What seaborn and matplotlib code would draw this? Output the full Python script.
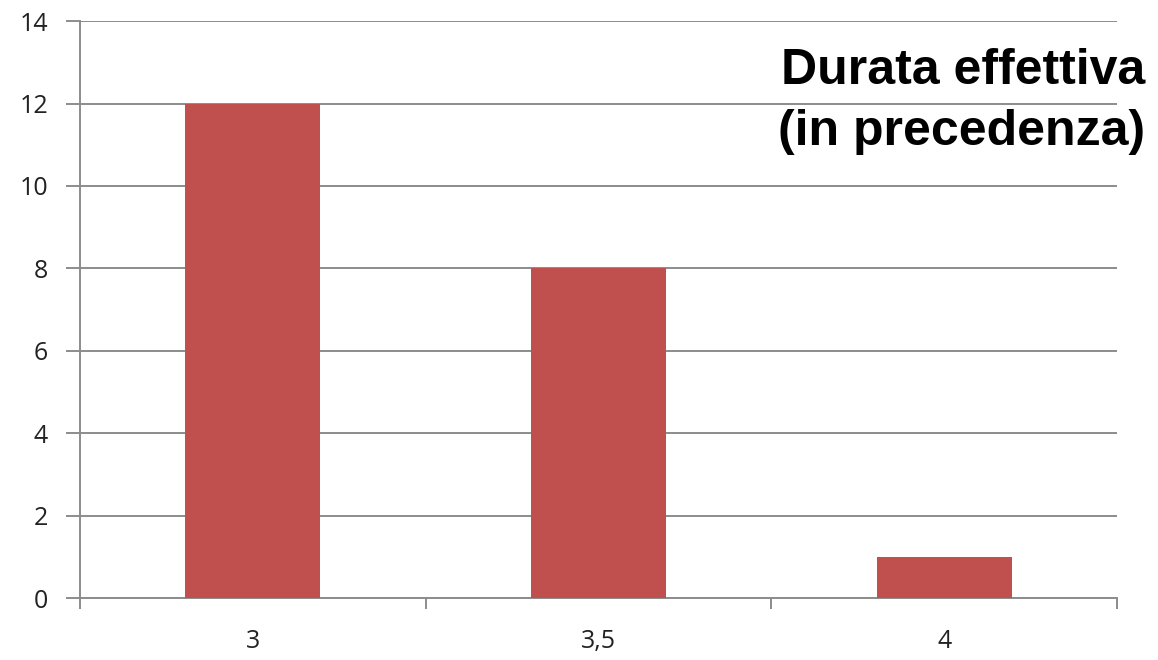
import matplotlib
matplotlib.use("Agg")
import matplotlib.pyplot as plt
from matplotlib.ticker import FixedLocator
import seaborn as sns
import pandas as pd

categories = ["3", "3,5", "4"]
counts = [12, 8, 1]
y_ticks = [0, 2, 4, 6, 8, 10, 12, 14]
title_text = "Durata effettiva\n(in precedenza)"

sns.set_theme(style="white")
plt.rcParams["font.family"] = ["Open Sans", "DejaVu Sans"]

df = pd.DataFrame({"durata": categories, "n": counts})

fig = plt.figure(figsize=(11.58, 6.6), dpi=100)
ax = fig.add_axes([0.0691, 0.0939, 0.8955, 0.8741])

sns.barplot(data=df, x="durata", y="n", color="#C0504D", width=0.39,
            saturation=1, linewidth=0, ax=ax, zorder=3)

ax.set_xlim(-0.5, len(categories) - 0.5)
ax.set_ylim(0, 14)
ax.set_yticks(y_ticks)
ax.yaxis.grid(True, color="#8C8C8C", linewidth=1.4, zorder=0)
ax.set_axisbelow(True)

ax.set_xlabel("")
ax.set_ylabel("")

for side in ["top", "right"]:
    ax.spines[side].set_visible(False)
for side in ["left", "bottom"]:
    ax.spines[side].set_color("#8C8C8C")
    ax.spines[side].set_linewidth(1.4)

ax.tick_params(axis="y", length=10, width=1.4, color="#8C8C8C", pad=13,
               labelsize=18, labelcolor="#222222", left=True)
ax.tick_params(axis="x", which="major", length=0, pad=22,
               labelsize=18, labelcolor="#222222")
ax.xaxis.set_minor_locator(FixedLocator([-0.5, 0.5, 1.5, 2.5]))
ax.tick_params(axis="x", which="minor", length=8, width=1.4,
               color="#8C8C8C", bottom=True)

fig.text(0.989, 0.928, title_text, ha="right", va="top",
         fontsize=36, fontweight="bold", family="Liberation Sans",
         color="black", linespacing=1.42)

fig.savefig("out.png", dpi=100, facecolor="white")
